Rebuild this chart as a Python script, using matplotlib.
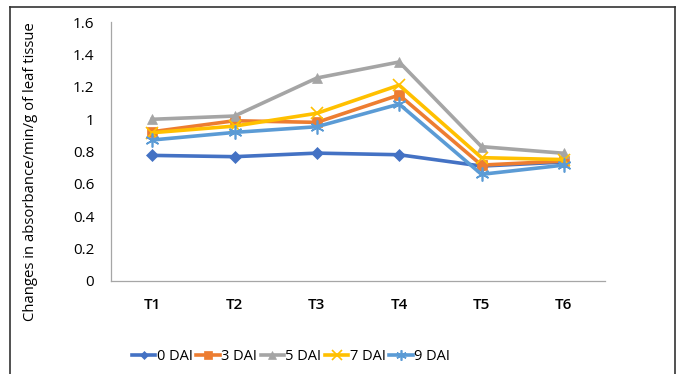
import matplotlib.pyplot as plt
from matplotlib.lines import Line2D

treatments = ['T1', 'T2', 'T3', 'T4', 'T5', 'T6']
series_names = ['0 DAI', '3 DAI', '5 DAI', '7 DAI', '9 DAI']
dai_0 = [0.776, 0.768, 0.790, 0.780, 0.710, 0.735]
dai_3 = [0.922, 0.990, 0.980, 1.149, 0.716, 0.741]
dai_5 = [0.999, 1.019, 1.254, 1.353, 0.830, 0.789]
dai_7 = [0.916, 0.957, 1.036, 1.210, 0.762, 0.750]
dai_9 = [0.871, 0.918, 0.953, 1.093, 0.659, 0.716]
y_ticks = [0, 0.2, 0.4, 0.6, 0.8, 1, 1.2, 1.4, 1.6]
y_tick_labels = ['0', '0.2', '0.4', '0.6', '0.8', '1', '1.2', '1.4', '1.6']

colors = ['#4472C4', '#ED7D31', '#A5A5A5', '#FFC000', '#5B9BD5']
markers = ['D', 's', '^', 'x', (6, 2, 0)]
sizes = [6, 7, 7, 9, 10]

plt.rcParams['font.family'] = ['Open Sans', 'DejaVu Sans']

fig = plt.figure(figsize=(6.78, 3.74), dpi=100)
ax = fig.add_axes([111 / 678, 1 - 281 / 374, 494 / 678, 259 / 374])

x = range(len(treatments))
for name, vals, c, m, ms in zip(series_names, [dai_0, dai_3, dai_5, dai_7, dai_9], colors, markers, sizes):
    ax.plot(x, vals, color=c, linewidth=2.6, marker=m, markersize=ms,
            markeredgewidth=1.2 if m in ('x', (6, 2, 0)) else 0.5,
            markeredgecolor=c, label=name)

ax.set_xlim(-0.5, 5.5)
ax.set_ylim(0, 1.6)
ax.set_xticks(list(x))
ax.set_xticklabels(treatments, fontsize=11, fontweight='semibold')
ax.set_yticks(y_ticks)
ax.set_yticklabels(y_tick_labels, fontsize=11)
ax.tick_params(length=0)
ax.tick_params(axis='y', pad=12)
ax.tick_params(axis='x', pad=12)
for s in ['top', 'right']:
    ax.spines[s].set_visible(False)
for s in ['left', 'bottom']:
    ax.spines[s].set_color('#A6A6A6')
    ax.spines[s].set_linewidth(0.9)

fig.text(31 / 678, 1 - 172 / 374, 'Changes in absorbance/min/g of leaf tissue',
         rotation=90, ha='center', va='center', fontsize=10.7)

fig.legend(loc='center', bbox_to_anchor=(291 / 678, 1 - 357 / 374), ncol=5,
           frameon=False, fontsize=10.5, handlelength=1.6, handletextpad=0.1,
           columnspacing=0.25, markerscale=0.75)

# outer frame of the chart area
for xs, ys in [((10, 10), (7, 380)), ((10, 675), (7, 7)), ((675, 675), (7, 380))]:
    fig.add_artist(Line2D([v / 678 for v in xs], [1 - v / 374 for v in ys],
                          color='#333333', linewidth=1.2))

fig.savefig('out.png', dpi=100)
